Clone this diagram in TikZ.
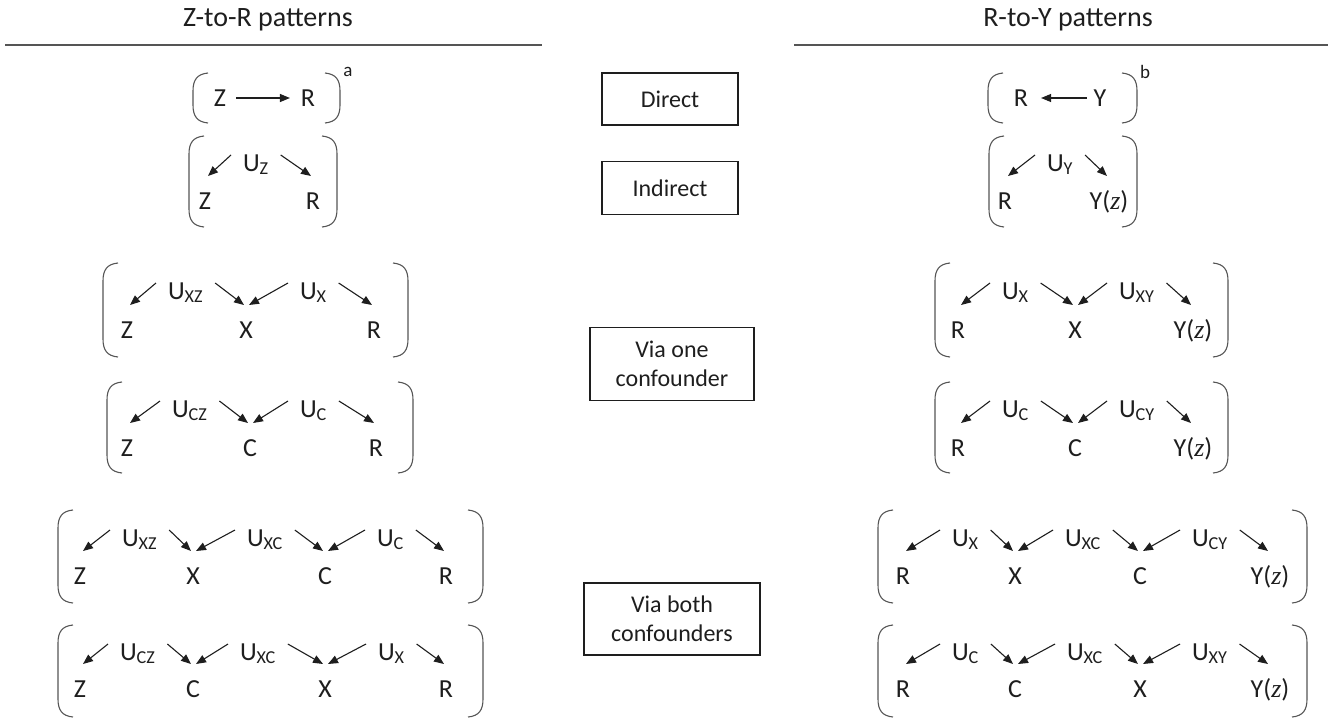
\documentclass[tikz,border=0pt]{standalone}
\usepackage{fontspec}
\setmainfont{Carlito}
\newfontfamily\zfont{Liberation Serif}
\usepackage{tikz}
\usetikzlibrary{positioning, arrows.meta}

\definecolor{ink}{HTML}{1E1E1E}
\definecolor{rule}{HTML}{555555}

\tikzset{
  var/.style={inner sep=0pt, outer xsep=0pt, outer ysep=17pt, text height=16pt, text depth=0pt,
    font=\fontsize{26}{30}\selectfont},
  unode/.style={anchor=west, inner sep=0pt, outer xsep=12pt, outer ysep=0pt, text height=16pt, text depth=0pt,
    font=\fontsize{26}{30}\selectfont},
  arr/.style={->, line width=1.1pt, draw=ink},
  brk/.style={line width=1.1pt, draw=rule},
  kind/.style={draw=ink, line width=1.2pt, align=center, inner sep=0pt},
  head/.style={font=\fontsize{28}{32}\selectfont},
  note/.style={font=\fontsize{19}{22}\selectfont, inner sep=0pt}
}
\newcommand{\Yz}{Y({\zfont\itshape z})}

\begin{document}
\begin{tikzpicture}[x=1pt, y=-1pt, >={Triangle[length=10pt,width=8pt]},
    font=\fontsize{24}{29}\selectfont, text=ink]
    \useasboundingbox (0,0) rectangle (1333,720);

    % headers
    \node[head] (hzr) at (268,20) {Z-to-R patterns};
    \node[head] (hry) at (1068,20) {R-to-Y patterns};
    \draw[brk, line width=1.3pt] (5,45) -- (542,45);
    \draw[brk, line width=1.3pt] (794,45) -- (1328,45);

    % middle boxes
    \node[kind, minimum width=136pt, minimum height=52pt] (direct) at (670,99) {Direct};
    \node[kind, minimum width=136pt, minimum height=53pt] (indirect) at (670,188) {Indirect};
    \node[kind, minimum width=164pt, minimum height=73pt] (viaone) at (672,364) {Via one\\confounder};
    \node[kind, minimum width=176pt, minimum height=72pt] (viaboth) at (672,619) {Via both\\confounders};

    % brackets
    \foreach \xl/\xr/\yt/\yb in {193/340/73/123, 189/337/136/227, 103/408/263/357, 107/413/382/473,
        58/483/510/603, 58/483/625/717, 988/1137/73/123, 989/1137/136/227, 935/1228/263/357,
        935/1228/382/473, 878/1307/510/603, 878/1307/625/717} {
      \draw[brk] (\xl+15,\yt) .. controls (\xl+4,\yt+1) and (\xl,\yt+7) .. (\xl,\yt+18)
        -- (\xl,\yb-18) .. controls (\xl,\yb-7) and (\xl+4,\yb-1) .. (\xl+15,\yb);
      \draw[brk] (\xr-15,\yt) .. controls (\xr-4,\yt+1) and (\xr,\yt+7) .. (\xr,\yt+18)
        -- (\xr,\yb-18) .. controls (\xr,\yb-7) and (\xr-4,\yb-1) .. (\xr-15,\yb);
    }
    \node[note] (suba) at (348,72) {a};
    \node[note] (subb) at (1145,72) {b};

    % Z-to-R: direct
    \node[var] (lz1) at (220,98) {Z};
    \node[var] (lr1) at (308,98) {R};
    \draw[arr] ([xshift=10pt]lz1.east) -- ([xshift=-11pt]lr1.west);

    % Z-to-R: indirect
    \node[unode] (luz) at (231,163) {U\textsubscript{Z}};
    \node[var] (lz2) at (205,201) {Z};
    \node[var] (lr2) at (313,201) {R};
    \draw[arr] (luz.north west) -- ([xshift=3pt]lz2.north);
    \draw[arr] (luz.north east) -- ([xshift=-2pt]lr2.north);

    % Z-to-R: via X
    \node[unode] (luxz) at (156,291) {U\textsubscript{XZ}};
    \node[unode] (lux) at (288,291) {U\textsubscript{X}};
    \node[var] (lz3) at (127,330) {Z};
    \node[var] (lx3) at (246,330) {X};
    \node[var] (lr3) at (374,330) {R};
    \draw[arr] (luxz.north west) -- ([xshift=3pt]lz3.north);
    \draw[arr] (luxz.north east) -- ([xshift=-2pt]lx3.north);
    \draw[arr] (lux.north west) -- ([xshift=3pt]lx3.north);
    \draw[arr] (lux.north east) -- ([xshift=-2pt]lr3.north);

    % Z-to-R: via C
    \node[unode] (lucz) at (160,409) {U\textsubscript{CZ}};
    \node[unode] (luc) at (288,409) {U\textsubscript{C}};
    \node[var] (lz4) at (127,448) {Z};
    \node[var] (lc4) at (250,448) {C};
    \node[var] (lr4) at (376,448) {R};
    \draw[arr] (lucz.north west) -- ([xshift=3pt]lz4.north);
    \draw[arr] (lucz.north east) -- ([xshift=-2pt]lc4.north);
    \draw[arr] (luc.north west) -- ([xshift=3pt]lc4.north);
    \draw[arr] (luc.north east) -- ([xshift=-2pt]lr4.north);

    % Z-to-R: via X then C
    \node[unode] (luxz5) at (110,538) {U\textsubscript{XZ}};
    \node[unode] (luxc5) at (235,538) {U\textsubscript{XC}};
    \node[unode] (luc5) at (365,538) {U\textsubscript{C}};
    \node[var] (lz5) at (80,576) {Z};
    \node[var] (lx5) at (193,576) {X};
    \node[var] (lc5) at (325,576) {C};
    \node[var] (lr5) at (446,576) {R};
    \draw[arr] (luxz5.north west) -- ([xshift=3pt]lz5.north);
    \draw[arr] (luxz5.north east) -- ([xshift=-2pt]lx5.north);
    \draw[arr] (luxc5.north west) -- ([xshift=3pt]lx5.north);
    \draw[arr] (luxc5.north east) -- ([xshift=-2pt]lc5.north);
    \draw[arr] (luc5.north west) -- ([xshift=3pt]lc5.north);
    \draw[arr] (luc5.north east) -- ([xshift=-2pt]lr5.north);

    % Z-to-R: via C then X
    \node[unode] (lucz6) at (108,652) {U\textsubscript{CZ}};
    \node[unode] (luxc6) at (228,652) {U\textsubscript{XC}};
    \node[unode] (lux6) at (366,652) {U\textsubscript{X}};
    \node[var] (lz6) at (80,689) {Z};
    \node[var] (lc6) at (193,689) {C};
    \node[var] (lx6) at (325,689) {X};
    \node[var] (lr6) at (446,689) {R};
    \draw[arr] (lucz6.north west) -- ([xshift=3pt]lz6.north);
    \draw[arr] (lucz6.north east) -- ([xshift=-2pt]lc6.north);
    \draw[arr] (luxc6.north west) -- ([xshift=3pt]lc6.north);
    \draw[arr] (luxc6.north east) -- ([xshift=-2pt]lx6.north);
    \draw[arr] (lux6.north west) -- ([xshift=3pt]lx6.north);
    \draw[arr] (lux6.north east) -- ([xshift=-2pt]lr6.north);

    % R-to-Y: direct
    \node[var] (rr1) at (1021,98) {R};
    \node[var] (ry1) at (1100,98) {Y};
    \draw[arr] ([xshift=-7pt]ry1.west) -- ([xshift=13pt]rr1.east);

    % R-to-Y: indirect
    \node[unode] (ruy) at (1035,163) {U\textsubscript{Y}};
    \node[var] (rr2) at (1005,201) {R};
    \node[var] (ryz2) at (1109,201) {\Yz};
    \draw[arr] (ruy.north west) -- ([xshift=3pt]rr2.north);
    \draw[arr] (ruy.north east) -- ([xshift=-2pt]ryz2.north);

    % R-to-Y: via X
    \node[unode] (rux) at (990,291) {U\textsubscript{X}};
    \node[unode] (ruxy) at (1107,291) {U\textsubscript{XY}};
    \node[var] (rr3) at (958,330) {R};
    \node[var] (rx3) at (1075,330) {X};
    \node[var] (ryz3) at (1193,330) {\Yz};
    \draw[arr] (rux.north west) -- ([xshift=3pt]rr3.north);
    \draw[arr] (rux.north east) -- ([xshift=-2pt]rx3.north);
    \draw[arr] (ruxy.north west) -- ([xshift=3pt]rx3.north);
    \draw[arr] (ruxy.north east) -- ([xshift=-2pt]ryz3.north);

    % R-to-Y: via C
    \node[unode] (ruc) at (990,409) {U\textsubscript{C}};
    \node[unode] (rucy) at (1107,409) {U\textsubscript{CY}};
    \node[var] (rr4) at (958,448) {R};
    \node[var] (rc4) at (1075,448) {C};
    \node[var] (ryz4) at (1193,448) {\Yz};
    \draw[arr] (ruc.north west) -- ([xshift=3pt]rr4.north);
    \draw[arr] (ruc.north east) -- ([xshift=-2pt]rc4.north);
    \draw[arr] (rucy.north west) -- ([xshift=3pt]rc4.north);
    \draw[arr] (rucy.north east) -- ([xshift=-2pt]ryz4.north);

    % R-to-Y: via X then C
    \node[unode] (rux5) at (940,538) {U\textsubscript{X}};
    \node[unode] (ruxc5) at (1053,538) {U\textsubscript{XC}};
    \node[unode] (rucy5) at (1180,538) {U\textsubscript{CY}};
    \node[var] (rr5) at (903,576) {R};
    \node[var] (rx5) at (1015,576) {X};
    \node[var] (rc5) at (1140,576) {C};
    \node[var] (ryz5) at (1270,576) {\Yz};
    \draw[arr] (rux5.north west) -- ([xshift=3pt]rr5.north);
    \draw[arr] (rux5.north east) -- ([xshift=-2pt]rx5.north);
    \draw[arr] (ruxc5.north west) -- ([xshift=3pt]rx5.north);
    \draw[arr] (ruxc5.north east) -- ([xshift=-2pt]rc5.north);
    \draw[arr] (rucy5.north west) -- ([xshift=3pt]rc5.north);
    \draw[arr] (rucy5.north east) -- ([xshift=-2pt]ryz5.north);

    % R-to-Y: via C then X
    \node[unode] (ruc6) at (940,652) {U\textsubscript{C}};
    \node[unode] (ruxc6) at (1055,652) {U\textsubscript{XC}};
    \node[unode] (ruxy6) at (1180,652) {U\textsubscript{XY}};
    \node[var] (rr6) at (903,689) {R};
    \node[var] (rc6) at (1015,689) {C};
    \node[var] (rx6) at (1140,689) {X};
    \node[var] (ryz6) at (1270,689) {\Yz};
    \draw[arr] (ruc6.north west) -- ([xshift=3pt]rr6.north);
    \draw[arr] (ruc6.north east) -- ([xshift=-2pt]rc6.north);
    \draw[arr] (ruxc6.north west) -- ([xshift=3pt]rc6.north);
    \draw[arr] (ruxc6.north east) -- ([xshift=-2pt]rx6.north);
    \draw[arr] (ruxy6.north west) -- ([xshift=3pt]rx6.north);
    \draw[arr] (ruxy6.north east) -- ([xshift=-2pt]ryz6.north);
\end{tikzpicture}
\end{document}
